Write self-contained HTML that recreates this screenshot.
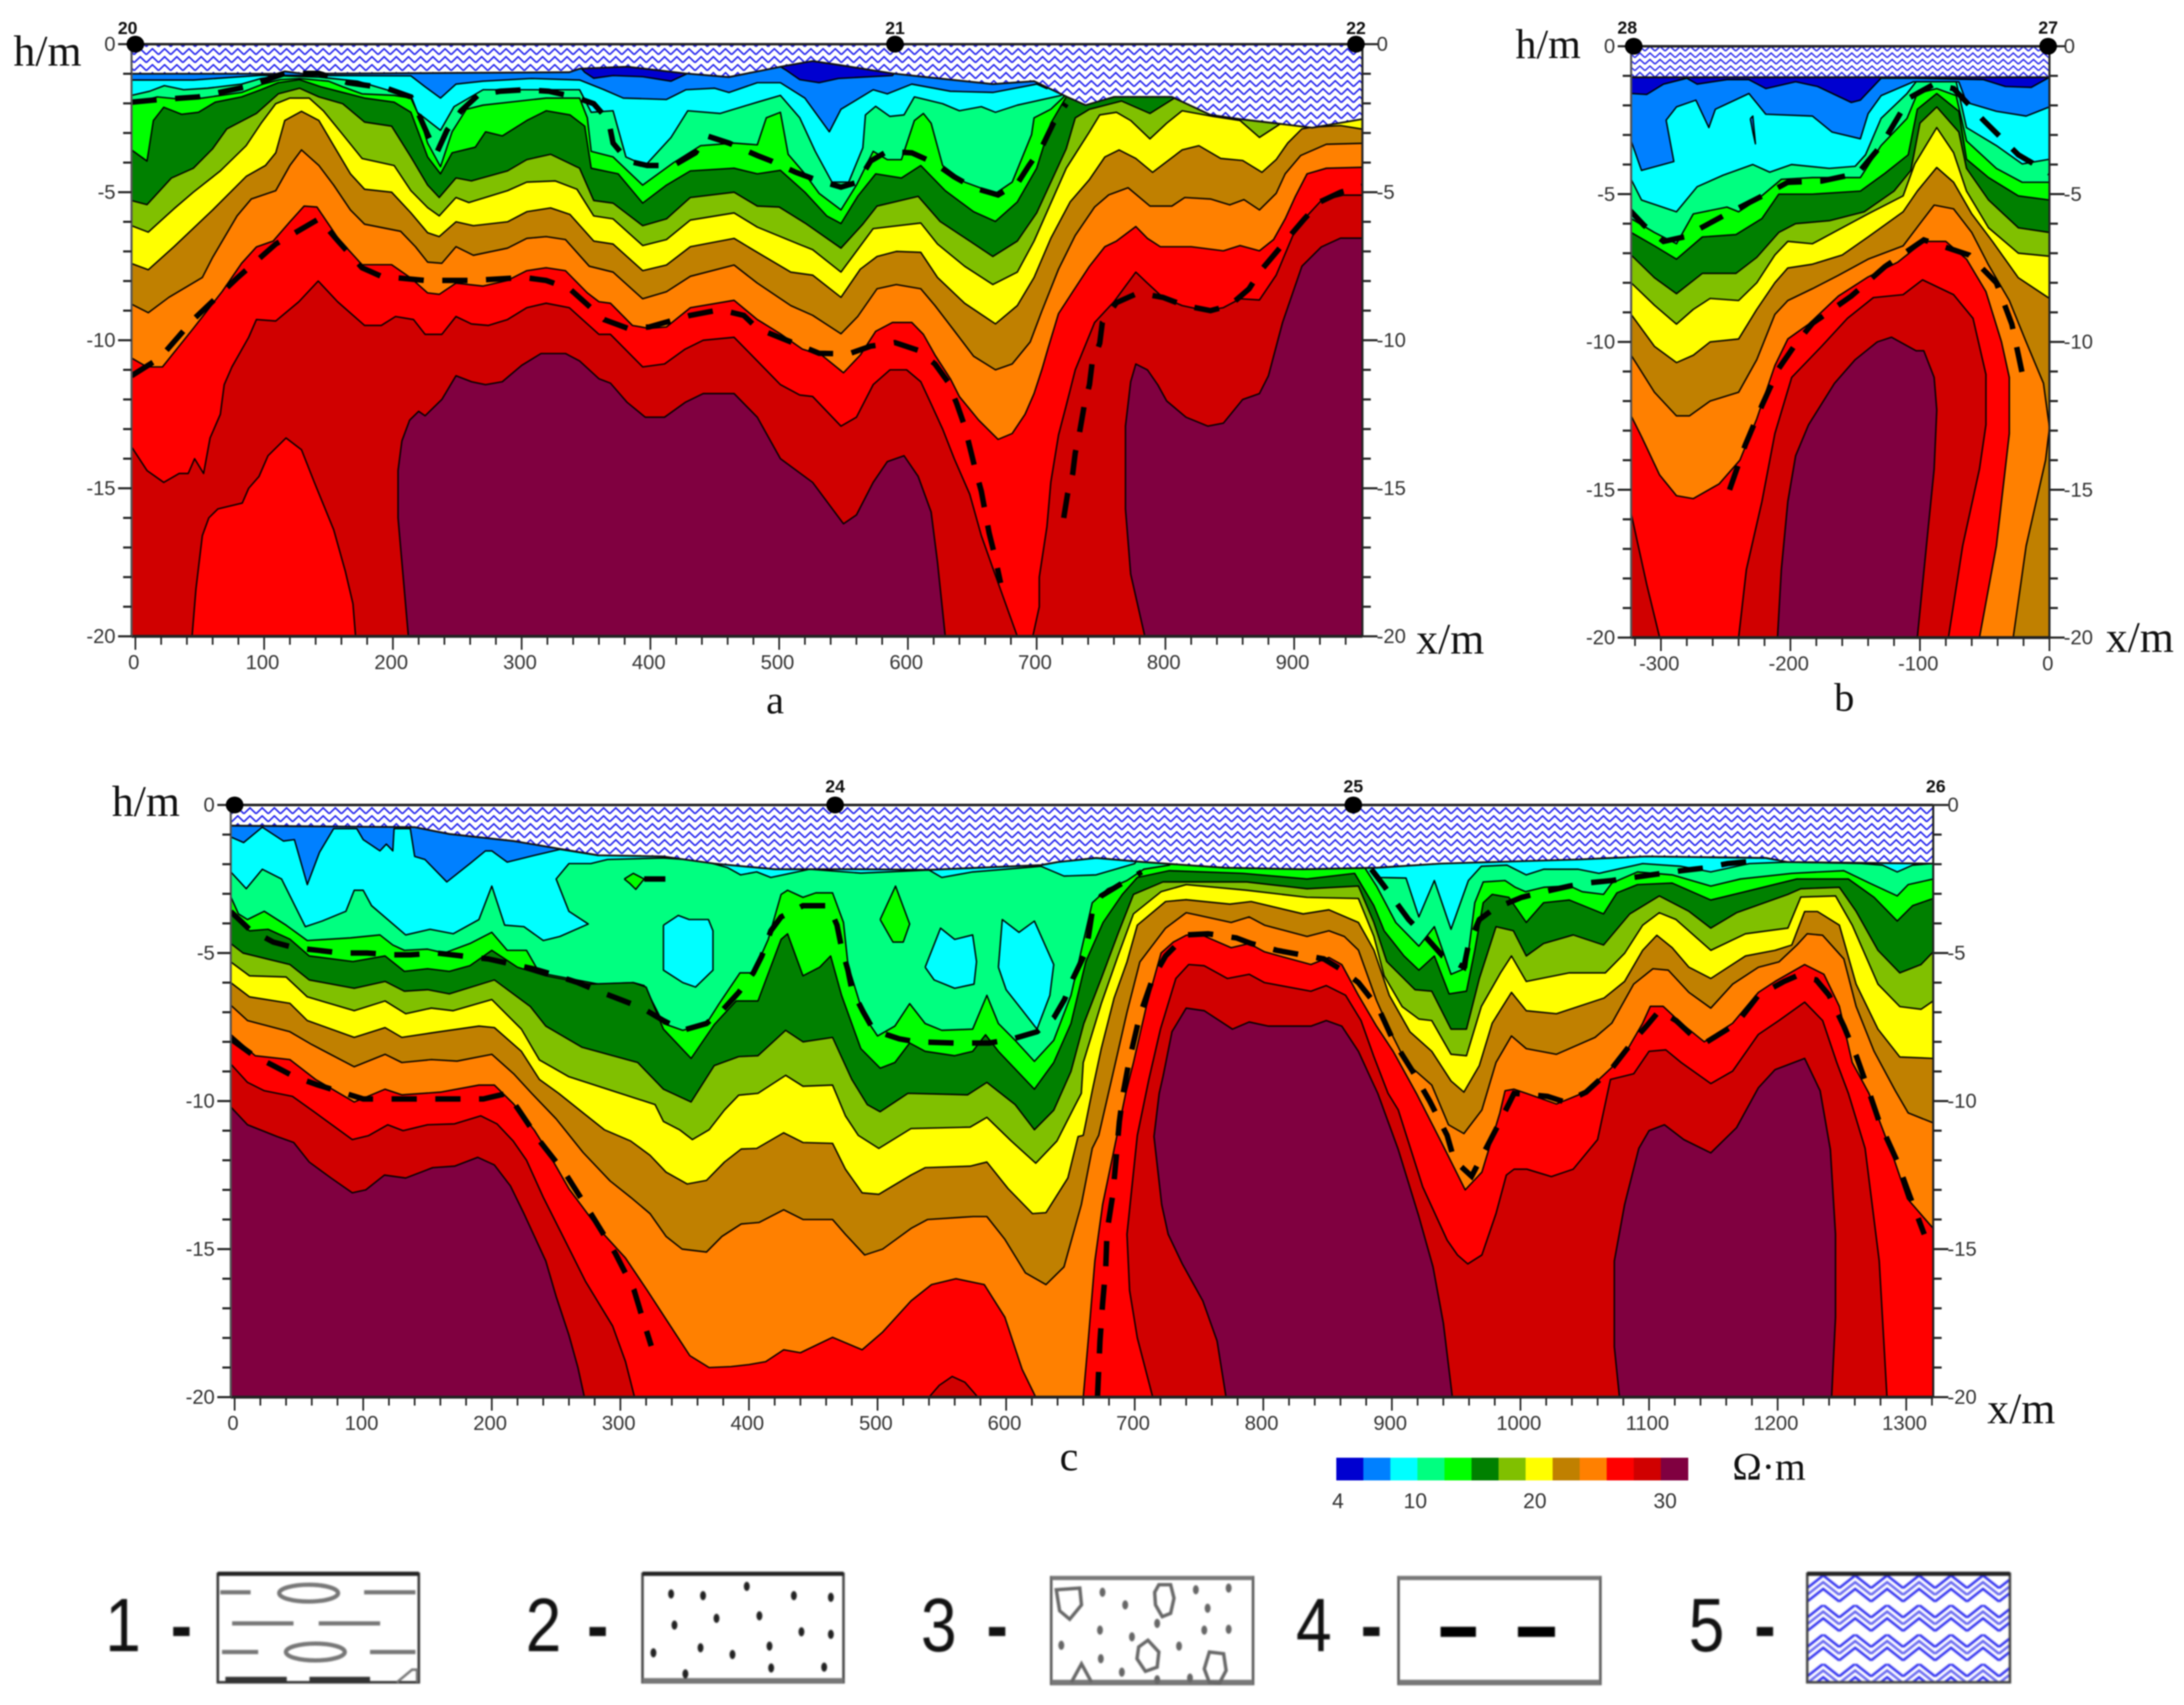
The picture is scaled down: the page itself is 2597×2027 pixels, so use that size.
<!DOCTYPE html>
<html lang="en">
<head>
<meta charset="utf-8">
<title>Resistivity sections a, b, c</title>
<style>
html,body{margin:0;padding:0;background:#fff;}
#chart{display:block;width:2597px;height:2027px;filter:blur(0.8px);}
text{font-family:"Liberation Sans",sans-serif;}
.serif{font-family:"Liberation Serif",serif;fill:#111;}
</style>
</head>
<body>
<svg id="chart" xmlns="http://www.w3.org/2000/svg" width="2597" height="2027" viewBox="0 0 2597 2027">
  <defs>
    <pattern id="hatch-a" patternUnits="userSpaceOnUse" width="14.5" height="19">
      <rect width="14.5" height="19" fill="#ffffff"/>
      <polyline points="0,8 7.25,1 14.5,8" fill="none" stroke="#2222ee" stroke-width="1.9"/>
      <polyline points="0,17.5 7.25,10.5 14.5,17.5" fill="none" stroke="#2222ee" stroke-width="1.9"/>
    </pattern>
    <pattern id="hatch-b" patternUnits="userSpaceOnUse" width="12" height="15.5">
      <rect width="12" height="15.5" fill="#ffffff"/>
      <polyline points="0,6.5 6,1 12,6.5" fill="none" stroke="#2a2aee" stroke-width="1.7"/>
      <polyline points="0,14.2 6,8.7 12,14.2" fill="none" stroke="#2a2aee" stroke-width="1.7"/>
    </pattern>
    <pattern id="hatch-big" patternUnits="userSpaceOnUse" x="2149" y="1873" width="38" height="35">
      <rect width="38" height="35" fill="#ffffff"/>
      <polyline points="0,15 19,0 38,15" fill="none" stroke="#3232f0" stroke-width="3"/>
      <polyline points="0,23 19,8 38,23" fill="none" stroke="#6464f0" stroke-width="3"/>
      <polyline points="0,31 19,16 38,31" fill="none" stroke="#3232f0" stroke-width="3"/>
    </pattern>
  </defs>
  <rect width="2597" height="2027" fill="#ffffff"/>
  <g id="panels"></g>

  <text class="serif" x="16" y="78" font-size="52">h/m</text>
  <text class="serif" x="1684" y="777" font-size="52">x/m</text>
  <text class="serif" x="911" y="848" font-size="48">a</text>
  <text class="serif" x="1802" y="69" font-size="50">h/m</text>
  <text class="serif" x="2504" y="775" font-size="52">x/m</text>
  <text class="serif" x="2181" y="845" font-size="48">b</text>
  <text class="serif" x="133" y="970" font-size="52">h/m</text>
  <text class="serif" x="2363" y="1692" font-size="52">x/m</text>
  <text class="serif" x="1260" y="1748" font-size="50">c</text>

  <g id="colorbar"></g>
  <text class="serif" x="2060" y="1759" font-size="47">Ω·m</text>

  <g fill="none" style="filter:blur(0.8px)">
    <g>
      <text transform="translate(125,1963) scale(.85,1)" font-size="90" fill="#111">1</text>
      <text transform="translate(203,1963) scale(.85,1)" font-size="90" font-weight="bold" fill="#111">-</text>
      <rect x="259" y="1871" width="239" height="129" stroke="#333" stroke-width="3" fill="#fff"/>
      <line x1="259" y1="1871" x2="498" y2="1871" stroke="#222" stroke-width="5"/>
      <g stroke="#777" stroke-width="5">
        <line x1="262" y1="1893" x2="298" y2="1893"/><line x1="433" y1="1893" x2="494" y2="1893"/>
        <line x1="276" y1="1930" x2="349" y2="1930"/><line x1="379" y1="1930" x2="452" y2="1930"/>
        <line x1="264" y1="1964" x2="307" y2="1964"/><line x1="440" y1="1964" x2="494" y2="1964"/>
        <ellipse cx="367" cy="1894" rx="35" ry="10"/><ellipse cx="375" cy="1964" rx="35" ry="10"/>
      </g>
      <g stroke="#333" stroke-width="5">
        <line x1="268" y1="1996" x2="341" y2="1996"/><line x1="368" y1="1996" x2="440" y2="1996"/>
      </g>
      <polyline points="472,2000 490,1985 496,1985 496,2000" stroke="#777" stroke-width="3"/>
    </g>
    <g>
      <text transform="translate(625,1963) scale(.85,1)" font-size="90" fill="#111">2</text>
      <text transform="translate(698,1963) scale(.85,1)" font-size="90" font-weight="bold" fill="#111">-</text>
      <rect x="764" y="1871" width="239" height="129" stroke="#444" stroke-width="3" fill="#fff"/>
      <line x1="764" y1="1871" x2="1003" y2="1871" stroke="#222" stroke-width="5"/>
      <line x1="764" y1="1998" x2="1003" y2="1998" stroke="#777" stroke-width="6"/>
      <g id="legend-sand" fill="#222" stroke="none"></g>
    </g>
    <g>
      <text transform="translate(1095,1963) scale(.85,1)" font-size="90" fill="#111">3</text>
      <text transform="translate(1173,1963) scale(.85,1)" font-size="90" font-weight="bold" fill="#111">-</text>
      <rect x="1250" y="1875" width="240" height="127" stroke="#555" stroke-width="3" fill="#fff"/>
      <line x1="1250" y1="1876" x2="1490" y2="1876" stroke="#777" stroke-width="5"/>
      <line x1="1250" y1="2000" x2="1490" y2="2000" stroke="#777" stroke-width="6"/>
      <g stroke="#666" stroke-width="4">
        <polygon points="1378,1884 1392,1884 1396,1900 1392,1918 1382,1922 1374,1908 1373,1893"/>
        <polygon points="1365,1950 1378,1964 1376,1982 1362,1987 1352,1972 1354,1958"/>
        <polygon points="1438,1964 1455,1966 1458,1986 1450,2001 1438,2000 1432,1984"/>
        <polygon points="1256,1890 1284,1888 1286,1908 1272,1925 1260,1915"/>
        <path d="M1274,2000 L1286,1978 L1298,2000"/>
      </g>
      <g id="legend-gravel" fill="#666" stroke="none"></g>
    </g>
    <g>
      <text transform="translate(1541,1963) scale(.85,1)" font-size="90" fill="#111">4</text>
      <text transform="translate(1618,1963) scale(.85,1)" font-size="90" font-weight="bold" fill="#111">-</text>
      <rect x="1663" y="1875" width="240" height="127" stroke="#555" stroke-width="3" fill="#fff"/>
      <line x1="1663" y1="1876" x2="1903" y2="1876" stroke="#777" stroke-width="5"/>
      <line x1="1663" y1="2000" x2="1903" y2="2000" stroke="#777" stroke-width="6"/>
      <line x1="1713" y1="1940" x2="1755" y2="1940" stroke="#000" stroke-width="12"/>
      <line x1="1805" y1="1940" x2="1849" y2="1940" stroke="#000" stroke-width="12"/>
    </g>
    <g>
      <text transform="translate(2008,1963) scale(.85,1)" font-size="90" fill="#111">5</text>
      <text transform="translate(2086,1963) scale(.85,1)" font-size="90" font-weight="bold" fill="#111">-</text>
      <rect x="2149" y="1871" width="241" height="129" stroke="#444" stroke-width="3" fill="url(#hatch-big)"/>
      <line x1="2149" y1="1871" x2="2390" y2="1871" stroke="#222" stroke-width="5"/>
    </g>
  </g>
</svg>

<script>
/* ---------- colour scale ---------- */
const paletteDarkBlue='#0000d0',paletteBlue='#0080ff',paletteCyan='#00ffff',paletteSpring='#00ff80',paletteGreen='#00ff00',paletteDarkGreen='#008000',paletteOlive='#80c000',paletteYellow='#ffff00',paletteBrown='#c08000',paletteOrange='#ff8000',paletteRed='#ff0000',paletteDarkRed='#d00000',paletteMaroon='#800040';
const colorbarColors=[paletteDarkBlue,paletteBlue,paletteCyan,paletteSpring,paletteGreen,paletteDarkGreen,paletteOlive,paletteYellow,paletteBrown,paletteOrange,paletteRed,paletteDarkRed,paletteMaroon];
const colorbarTickLabels=['4','10','20','30'];
const colorbarTickSteps=[0,2.86,7.28,12.1];

/* ---------- shared ticks ---------- */
const depthTicks=[0,5,10,15,20];

/* ---------- panel a : [x in m, depth in m] ---------- */
const aXTicks=[0,100,200,300,400,500,600,700,800,900];
const aMarkerX=[0,590,948];
const aStationNames=['20','21','22'];
const aStationX=[-6,590,948];
const aSurface=[[-3,1],[110,1],[116,.92],[130,1],[337,.95],[345,.83],[382,.76],[427,.99],[461,1.11],[483,.92],[505,.73],[526,.57],[546,.7],[588,.99],[614,1.11],[666,1.35],[698,1.25],[723,1.77],[738,2.06],[760,1.78],[805,1.78],[835,2.39],[858,2.53],[914,2.82],[953,2.53]];
const aBlue=[[-3,.5],[340,.5],[349,.95],[356,1.15],[371,1.06],[394,1.1],[416,1.25],[431,.95],[445,.7],[495,.6],[505,.87],[516,1.2],[531,1.3],[546,1.16],[588,1.06],[595,.7],[953,.5]];
const aCyan=[[-3,1.21],[45,1.21],[97.5,1.05],[214,1.07],[225,1.44],[237,1.82],[249,1.35],[270,1.25],[307.5,1.16],[345,1.21],[364,1.54],[379,1.82],[412.5,1.87],[427.5,1.54],[450,1.49],[461,1.63],[483,1.3],[501,1.3],[520,1.82],[539,2.96],[548,2.2],[573,1.54],[584,1.68],[603,1.35],[633,1.59],[666,1.63],[700,1.35],[708,1.5],[720,.5],[953,.5]];
const aSpring=[[-3,1.73],[11,1.59],[22.5,1.4],[37.5,1.54],[56,1.49],[82.5,1.35],[97.5,1.16],[112.5,1.07],[142.5,1.11],[172.5,1.25],[195,1.54],[214,1.73],[219,2.3],[237,2.91],[247.5,2.11],[270,1.54],[307.5,1.54],[345,1.54],[354,2.3],[371,2.25],[381,3.81],[396,4.1],[416,3.15],[429,2.25],[454,2.34],[483,1.96],[501,1.73],[516,2.49],[528,3.62],[541,4.66],[554,4.66],[565,3.5],[567,2.39],[575,2.1],[586,2.44],[597,2.39],[605,1.78],[627,2.01],[640,2.25],[657,2.11],[668,2.3],[685,2.06],[719,1.73],[730,.5],[953,.5]];
const aGreen=[[-3,2.01],[17,1.78],[37.5,1.87],[52,1.82],[82.5,1.63],[99,1.35],[112.5,1.2],[127.5,1.16],[150,1.25],[161,1.44],[176,1.68],[201,1.73],[214,1.82],[221,2.49],[227,3.34],[237,4.14],[246,2.96],[257,2.2],[270,2.06],[319,1.82],[345,1.82],[351,2.49],[354,3.62],[371,3.81],[394,4.76],[418,4],[439,3.43],[465,3.34],[483,3.4],[490,2.49],[501,2.3],[507,3.72],[520,4.38],[531,5.04],[548,5.6],[560,4.76],[573,3.62],[584,3.9],[595,3.9],[605,2.58],[612,2.34],[618,2.67],[627,4.1],[644,4.66],[668,5.04],[681,4.66],[696,3.06],[698,2.49],[711,2.2],[721,1.78],[726,.5],[953,.5]];
const aDarkGreen=[[-3,3.57],[9,3.95],[14,2.58],[22,2.13],[36,2.37],[49,2.3],[62,1.96],[82.5,1.78],[97.5,1.54],[111,1.3],[127.5,1.2],[144,1.44],[157.5,1.59],[178,1.82],[201,1.96],[214,2.3],[227,3.81],[237,4.38],[246,3.67],[264,3.48],[272,2.96],[285,3.1],[304,2.58],[319,2.25],[337.5,2.39],[349,2.77],[354,4.19],[375,4.38],[394,5.37],[412.5,4.76],[431,4.28],[465,4.19],[483,4.38],[501,4.26],[520,5],[537,5.8],[548,6.06],[561,5.14],[575,4.38],[595,4.52],[610,4.1],[629,4.95],[651,5.66],[668,5.99],[685,5.33],[700,4.19],[711,2.67],[723,1.78],[730,.5],[953,.5]];
const aOlive=[[-3,5.28],[9,5.42],[28,4.52],[45,4.19],[60,3.53],[71,2.86],[94,2.34],[111,1.68],[127.5,1.49],[142.5,1.78],[161,2.01],[178,2.63],[199,2.77],[214,3.81],[227,4.76],[236,5.18],[249,4.52],[261,4.62],[289,4.28],[304,3.9],[322.5,3.72],[345,4.19],[356,5.28],[371,5.37],[394,6.13],[412.5,5.9],[431,5.18],[465,5],[483,5.47],[500,5.5],[520,6.04],[548,6.89],[565,6.08],[576,5.47],[608,5.14],[625,5.99],[648,6.65],[666,7.17],[685,6.65],[691,6.27],[700,5.7],[708,4.95],[723,3.53],[730,2.49],[741,2.2],[766,1.92],[788,2.34],[807,1.82],[816,2],[820,1],[953,.5]];
const aYellow=[[-3,6.13],[10,6.35],[30,5.56],[45,5],[66,4.28],[86,3.43],[97.5,2.68],[109,2.01],[120,1.82],[135,1.82],[146,2.25],[161,3.05],[176,3.86],[201,4.1],[214,4.95],[227,5.52],[236,5.8],[249,5.18],[259,5.35],[289,4.95],[304,4.66],[326,4.62],[343,4.9],[356,5.8],[371,5.9],[394,6.8],[412.5,6.6],[431,5.94],[465,5.7],[483,6.18],[515,6.75],[526,6.94],[548,7.7],[573,6.23],[610,6.04],[623,6.75],[644,7.5],[666,8.12],[685,7.7],[698,6.65],[723,4.19],[741,2.96],[749,2.39],[762,2.3],[773,2.58],[788,3.2],[801,2.67],[813,2.25],[837,2.44],[858,2.58],[873,3.15],[890,2.67],[895,2.3],[953,2]];
const aBrown=[[-3,7.41],[10,7.62],[30,6.84],[60,5.6],[86,4.47],[101,4.1],[109,3.67],[116,2.58],[129,2.27],[142.5,2.58],[154,3.43],[167,4.38],[178,4.9],[199,5],[214,5.7],[227,6.37],[236,6.5],[249,6],[262.5,6.13],[289,6],[304,5.66],[322.5,5.53],[337.5,5.75],[356,6.65],[371,6.75],[394,7.65],[412.5,7.46],[431,6.84],[465,6.56],[483,7.03],[509,7.7],[526,7.8],[548,8.55],[563,7.6],[576,7.17],[591,7],[610,7.03],[623,7.88],[644,8.75],[668,9.45],[685,8.83],[698,7.88],[711,6.56],[726,5.33],[741,4.57],[753,3.81],[764,3.57],[777,3.86],[790,4.33],[813,3.57],[826,3.43],[843,3.86],[860,3.93],[875,4.33],[886,3.9],[895,3.34],[906,2.86],[914,2.8],[936,2.75],[953,2.87]];
const aOrange=[[-3,8.78],[10,9.07],[26,8.55],[52,7.88],[60,7.2],[79,5.8],[90,5.23],[109,4.95],[120,4.1],[129,3.57],[142.5,4.1],[154,4.76],[167,5.6],[178,6.08],[206,6.32],[217.5,6.84],[227,7.36],[238,7.4],[249,6.84],[262.5,7.13],[289,6.89],[304,6.56],[319,6.5],[334,6.6],[352.5,7.5],[371,7.7],[394,8.6],[412.5,8.36],[431,7.84],[465,7.46],[483,8.07],[509,8.83],[526,9.16],[548,9.78],[561,9.2],[576,8.26],[591,8.12],[610,8.26],[621,8.83],[636,9.68],[651,10.54],[668,11],[681,10.8],[695,10.06],[704,9.02],[717,7.6],[730,6.46],[745,5.5],[756,5.09],[771,4.85],[788,5.47],[805,5.47],[815,5.18],[835,5.23],[850,5.43],[861,5.25],[873,5.6],[886,5.04],[893,4.38],[905,3.76],[925,3.38],[953,3.35]];
const aRed=[[-3,10.6],[9,10.9],[21,10.9],[45,9.6],[67.5,8.35],[82.5,7.4],[94,6.85],[107,6.65],[120,6],[131,5.47],[141,5.5],[157.5,6.56],[176,7.45],[199,7.45],[214,7.9],[227,8.4],[236,8.45],[249,8.07],[270,8.17],[289,7.98],[304,7.65],[319,7.55],[334,7.65],[351,8.4],[360,8.7],[369,8.75],[386,9.5],[399,9.6],[412.5,9.55],[431,8.9],[465,8.65],[483,9.3],[501,9.78],[518,10.3],[533,10.5],[550,11.1],[563,10.5],[575,9.7],[588,9.4],[603,9.4],[612,9.8],[621,10.5],[633,11.3],[640,11.9],[655,12.7],[670,13.35],[681,13.15],[691,12.5],[698,11.8],[704,11],[709,10.25],[717,9.1],[728,8.36],[741,7.5],[753,6.84],[762,6.65],[777,6.16],[786,6.56],[796,6.84],[820,6.84],[845,6.98],[858,6.8],[873,6.98],[884,6.6],[893,5.9],[901,5.14],[910,4.38],[925,4.19],[953,4.16]];
const aDarkRed=[[-3,13.6],[9,14.4],[22,14.8],[34,14.5],[41,14.5],[46,14],[53,14.5],[58,13.3],[66,12.5],[69,11.5],[75,10.9],[88,9.9],[94,9.3],[109,9.35],[127,8.7],[142,8],[157,8.7],[178,9.5],[191,9.5],[202,9.2],[216,9.3],[225,9.8],[238,9.8],[249,9.2],[261,9.45],[274,9.5],[289,9.3],[304,8.9],[319,8.75],[337,8.9],[360,9.8],[369,9.8],[394,10.9],[411,10.8],[427,10.3],[441,10],[465,9.9],[483,10.7],[501,11.5],[516,11.85],[526,11.9],[548,12.9],[560,12.6],[573,11.5],[586,11],[599,11],[610,11.4],[618,12.15],[627,13],[636,14],[648,15.2],[657,16.6],[666,17.7],[680,19.4],[685,20],[697,20],[702,19],[702,18],[708,16.3],[711,14.8],[717,13.2],[723,12.2],[730,11],[745,9.4],[760,8.7],[777,7.7],[786,8.07],[798,8.55],[813,8.83],[831,9],[845,8.9],[858,8.6],[873,8.64],[886,7.8],[899,6.46],[910,5.8],[921,5.28],[938,5.1],[953,5.1]];
const aRedIsland=[[44,20],[47,18.4],[52,16.6],[57,16],[64,15.7],[83,15.5],[88,15],[96,14.6],[103,13.9],[117,13.3],[129,13.7],[139,14.8],[154,16.4],[163,17.8],[169,18.9],[171,20]];
const aMaroonWest=[[212,20],[204,16],[204,14.4],[207,13.4],[213,12.7],[220,12.4],[225,12.55],[238,12],[249,11.2],[261,11.4],[272,11.5],[285,11.4],[300,10.85],[315,10.45],[334,10.45],[345,10.7],[360,11.3],[369,11.45],[382,12.1],[396,12.6],[411,12.6],[427,12.1],[441,11.8],[465,11.8],[483,12.6],[501,14],[526,14.8],[550,16.2],[560,15.9],[573,14.8],[584,14.1],[597,13.9],[608,14.6],[618,15.8],[623,17.5],[629,20]];
const aMaroonEast=[[784,20],[773,17.9],[769,15.7],[769,12.9],[773,11.4],[777,10.8],[786,11],[794,11.5],[801,12.05],[816,12.6],[833,12.9],[845,12.8],[860,12],[873,11.8],[880,11.2],[891,9.4],[906,7.5],[921,6.85],[936,6.55],[953,6.55]];
const aBoundaryUpper=[[-3,1.96],[19,1.87],[49,1.78],[86,1.44],[116,.99],[142.5,.99],[165,1.3],[195,1.49],[214,1.78],[227,3.05],[234,3.67],[242,2.91],[253,2.25],[266,1.73],[283,1.59],[302,1.54],[321,1.59],[341,1.78],[356,2.01],[367.5,2.58],[371,3.34],[382.5,3.95],[397.5,4.1],[418,4.1],[435,3.67],[444,3.1],[461,3.34],[483,3.76],[494,3.95],[513,4.33],[528,4.57],[548,4.83],[561,4.66],[571,3.95],[584,3.62],[603,3.67],[620,4],[636,4.48],[651,4.85],[670,5.09],[685,4.71],[694,4.1],[704,3.48],[713,2.67],[723,2.01]];
const aBoundaryMiddle=[[-3,11.2],[19,10.6],[45,9.3],[79,7.9],[109,6.75],[142.5,5.9],[157.5,6.65],[176,7.55],[191,7.84],[225,7.98],[262.5,7.98],[302,7.88],[319,7.98],[337.5,8.27],[364,9.3],[382.5,9.6],[399,9.55],[431,9.16],[454,8.97],[472.5,9.16],[483,9.6],[531,10.44],[554,10.46],[571,10.2],[590,10.08],[608,10.34],[621,10.8],[631,11.4],[638,12.15],[644,12.9],[648,13.6],[652,14.3],[657,15.1],[660,15.8],[663,16.5],[667,17.2],[672,18.2]];
const aBoundaryEast=[[721,16],[724,15.2],[728,14.5],[730,13.8],[733,13.2],[737,12.2],[741,11.5],[743,10.8],[749,10.1],[751,9.4],[762,8.73],[779,8.4],[798,8.55],[815,8.83],[835,9],[850,8.83],[865,8.26],[874,7.65],[886,7.03],[897,6.46],[908,5.9],[920,5.33],[936,5],[953,4.8]];

/* ---------- panel b ---------- */
const bXTicks=[-300,-200,-100,0];
const bMarkerX=[-321,-1];
const bStationNames=['28','27'];
const bStationX=[-326,-1];
const bSurface=[[-323,1.05],[0,1.05]];
const bBlue=[[-323,1.6],[-311,1.63],[-298,1.28],[-280,1.08],[-272,1.28],[-249,1.13],[-232,1.13],[-219,1.43],[-196,1.2],[-179,1.36],[-153,1.9],[-146,1.82],[-130,1.08],[-105,1.08],[-51,1.13],[-34,1.36],[-14,1.39],[0,1.05]];
const bCyan=[[-323,3.2],[-315,4.2],[-290,3.9],[-296,2.5],[-288,2.05],[-273,1.82],[-263,2.75],[-258,2.13],[-232,1.6],[-219,2.3],[-183,2.36],[-168,2.9],[-146,3.13],[-140,2.28],[-130,1.67],[-105,1.2],[-70,1.2],[-64,1.9],[-41,2.2],[-18,2.36],[0,2.05]];
const bBlueSliver=[[-231,2.45],[-229,2.36],[-227,3.3],[-229,2.9]];
const bSpring=[[-323,4.5],[-315,5.2],[-288,5.6],[-272,4.75],[-252,4.36],[-229,4],[-216,4.26],[-199,4],[-170,4.13],[-150,4.06],[-142,3.67],[-130,2.44],[-110,1.6],[-103,1.2],[-72,1.2],[-64,2.75],[-41,3.36],[-21,3.98],[0,3.82]];
const bGreen=[[-323,5.83],[-305,6.3],[-288,6.68],[-275,5.67],[-249,5.44],[-240,5.6],[-226,5.2],[-207,4.5],[-183,4.44],[-146,4.44],[-130,3.36],[-110,2.44],[-102,1.6],[-87,1.43],[-72,1.67],[-64,3.2],[-41,4.13],[-21,4.6],[0,4.6]];
const bDarkGreen=[[-323,6.3],[-305,6.75],[-288,7.2],[-268,6.45],[-242,6.37],[-222,5.83],[-209,5],[-183,5],[-146,4.9],[-127,4.3],[-109,3.67],[-102,2.13],[-87,1.6],[-70,2.2],[-64,3.82],[-47,4.44],[-24,5.06],[0,5.2]];
const bOlive=[[-323,7.06],[-305,7.83],[-288,8.37],[-268,7.68],[-242,7.68],[-226,7.14],[-209,6.3],[-196,6],[-170,5.9],[-143,5.6],[-120,4.9],[-107,4.2],[-100,2.6],[-87,2.05],[-70,2.9],[-64,4.13],[-47,5.2],[-24,6.14],[0,6.3]];
const bYellow=[[-323,8],[-305,8.76],[-288,9.4],[-275,8.9],[-262,8.53],[-240,8.6],[-226,8],[-212,7.06],[-202,6.6],[-183,6.68],[-160,6.14],[-140,5.67],[-113,5.06],[-104,3.98],[-87,2.75],[-74,3.6],[-64,4.9],[-47,6.14],[-24,7],[0,7.1]];
const bBrown=[[-323,9.07],[-305,10.15],[-288,10.7],[-275,10.45],[-262,10],[-240,9.9],[-226,8.9],[-212,8],[-202,7.5],[-183,7.37],[-160,7.06],[-140,6.45],[-113,5.6],[-102,4.9],[-87,4.1],[-74,4.6],[-60,5.67],[-44,6.6],[-24,7.83],[0,8.53]];
const bOrange=[[-323,10.45],[-305,11.7],[-288,12.5],[-278,12.5],[-262,12],[-240,11.7],[-226,10.6],[-212,9.07],[-202,8.6],[-183,8.2],[-163,7.75],[-140,7.2],[-113,6.75],[-100,6],[-89,5.37],[-74,5.5],[-60,6.3],[-47,7.4],[-31,8.6],[-18,10],[-4.6,11.4],[0,12.9],[-3,14],[-18,16.9],[-28,20]];
const bRed=[[-323,12.5],[-315,13.2],[-301,14.5],[-288,15.2],[-275,15.3],[-255,14.8],[-239,14],[-226,12.6],[-212,10.8],[-202,9.9],[-186,9.4],[-163,8.45],[-140,7.8],[-117,7.3],[-97,6.6],[-80,6.6],[-64,7.2],[-49,8.3],[-37,10],[-31,11.2],[-31,13.1],[-41,16.9],[-54,20]];
const bDarkRed=[[-240,20],[-234,17.7],[-222,15.4],[-212,13.1],[-199,11.2],[-176,10.15],[-156,9.2],[-136,8.5],[-113,8.4],[-98,7.9],[-74,8.4],[-59,9.2],[-49,11.1],[-49,12.8],[-54,14.3],[-67,16.9],[-78,20]];
const bDarkRedCorner=[[-323,15.8],[-311,18.2],[-301,20],[-323,20]];
const bMaroon=[[-210,20],[-207,17.7],[-202,15.4],[-196,13.85],[-186,12.8],[-166,11.4],[-150,10.6],[-133,10],[-122,9.84],[-103,10.3],[-97,10.3],[-89,11.2],[-87,12.3],[-89,14.3],[-95,16.9],[-102,20]];
const bBoundaryUpper=[[-325,5.5],[-313,6.06],[-298,6.6],[-282,6.45],[-249,5.67],[-219,5],[-202,4.6],[-176,4.56],[-148,4.3],[-130,3.36],[-108,1.74],[-89,1.28],[-74,1.43],[-51,2.5],[-24,3.67],[0,4.29]];
const bBoundaryLower=[[-247,15],[-235,13.5],[-222,12.15],[-209,10.9],[-196,10.07],[-183,9.37],[-153,8.45],[-127,7.45],[-97,6.55],[-62,7.06],[-41,8],[-29,9.4],[-21,11.07]];

/* ---------- panel c ---------- */
const cXTicks=[0,100,200,300,400,500,600,700,800,900,1000,1100,1200,1300];
const cMarkerX=[0,467,870];
const cStationNames=['24','25','26'];
const cStationX=[467,870,1323];
const cSurface=[[-3,.7],[140,.75],[167,.98],[217,1.22],[250,1.46],[283,1.7],[333,1.74],[373,1.98],[420,2.17],[484,2.17],[540,2.19],[627,2.03],[640,1.93],[670,1.79],[707,1.93],[770,2.12],[831,2.17],[888,2.12],[938,1.98],[1045,1.84],[1098,1.74],[1191,1.79],[1208,1.93],[1321,1.98]];
const cCyan=[[-3,1.08],[7,1.27],[21.5,.75],[38,1.22],[46.5,1.17],[56.5,2.69],[66,1.6],[77,.8],[95,.8],[100,1.17],[113,1.55],[118,1.32],[123,1.55],[124,.8],[136.6,.8],[140,1.74],[148,1.84],[165,2.6],[183,1.98],[195,1.55],[200,1.55],[212,1.93],[233.4,1.7],[253,1.5],[283,1.71],[300,1.5],[1321,1.5]];
const cSpring=[[-3,2.26],[9,2.83],[21.5,2.17],[36.5,2.5],[55,4.11],[68,3.92],[86.5,3.59],[93,2.88],[100,2.88],[106.5,3.4],[133,4.39],[152,4.2],[170,4.35],[190,3.87],[200,2.74],[210,4.06],[225,4.11],[240,4.58],[253,4.44],[275,4.02],[260,3.59],[250,2.5],[260,1.98],[277,1.98],[290,1.84],[333,1.79],[363.5,1.88],[383.5,2.12],[393.5,2.36],[406,2.26],[417,2.45],[447,2.17],[487,2.3],[540,2.2],[550,2.45],[574,2.26],[627,2.07],[645,2.4],[670,2.36],[700,1.98],[707,1.5],[870,1.5],[881,1.9],[891,2.45],[911,2.47],[921,3.78],[933,2.55],[946,4.2],[959.5,2.55],[969.5,2.07],[989.5,2.03],[1004.5,2.36],[1018,2.17],[1045,2.17],[1061,2.31],[1095,1.98],[1125,2.07],[1148,2.26],[1178,1.98],[1208,1.93],[1265,1.98],[1281.5,2.03],[1293,2.26],[1305,2.03],[1321,1.98]];
const cCyanLensA=[[333.5,4.06],[345,3.73],[353.5,3.87],[368.5,3.87],[372,4.25],[372,5.58],[358.5,6.15],[348.5,6],[333.5,5.58]];
const cCyanLensB=[[537,5.48],[549,4.16],[560,4.54],[574,4.39],[577,5.29],[575,6.05],[560,6.19],[544,5.91]];
const cCyanLensC=[[594,5.48],[597,3.87],[610,4.3],[622,3.92],[637,5.39],[634,6.43],[624,7.57],[612,6.9],[600,6.24]];
const cGreenIslandA=[[303,2.5],[310,2.31],[318.5,2.5],[312,2.85],[307,2.64]];
const cGreenIslandB=[[502,3.87],[514,2.74],[525,4.02],[520,4.63],[512,4.63]];
const cGreen=[[-3,3.1],[3,3.68],[10,3.87],[23,3.59],[40,4.06],[56.5,4.58],[90,4.49],[113,4.39],[123,4.73],[132,4.91],[150,4.87],[163,5],[183,4.68],[200,4.3],[212,4.91],[227,4.91],[237,5.67],[283,6.05],[310,6],[318.5,6.1],[333.5,7.38],[348.5,7.61],[367,7.38],[377,6.7],[393,5.67],[403.4,5.67],[415,4.54],[425,3.02],[430,2.88],[442,3.12],[452,2.97],[465,2.97],[473.5,3.97],[477,5.39],[489,7.09],[500,7.8],[513.5,7.47],[525,6.71],[537,7.38],[550,7.61],[574,7.57],[585,6.43],[594,7.38],[607,7.95],[622,8.66],[637,7.95],[650.4,6.43],[660.4,4.54],[667,3.3],[679,2.83],[694,2.55],[707,2.17],[727,2.03],[740,1.5],[870,1.5],[881,2.26],[888,2.74],[903,3.97],[921,4.77],[933,4.11],[946,5.72],[958,5.5],[964.5,3.3],[971,2.6],[988,2.55],[996,2.78],[1004,2.93],[1018,2.78],[1038,2.73],[1048,2.93],[1064.6,3.02],[1071,2.64],[1091,2.26],[1118,2.36],[1148,2.74],[1171,2.5],[1211,2.31],[1251.5,2.22],[1271.5,2.64],[1293,3.07],[1301.5,2.69],[1321,2.5]];
const cDarkGreen=[[-3,3.68],[11.5,4.25],[26,4.2],[43,4.53],[58,5.1],[92,5.29],[117,5.1],[132,5.62],[150,5.53],[167,5.62],[183,5.43],[200,4.91],[220,5.48],[242,5.77],[276,6.05],[310,6],[320,6.15],[333.5,7.57],[355,8.56],[373,7.42],[390,6.62],[407,6.62],[425,4.54],[430,4.35],[442,5.77],[455,5.48],[463.5,5.1],[472,6.43],[487,8.23],[502,8.89],[513.5,8.7],[525,8.04],[537,8.32],[560,8.47],[574,8.32],[584,7.76],[594,8.32],[622,9.6],[637,8.7],[650.4,7.38],[662,5.29],[675.4,3.97],[690.4,3.02],[702,2.45],[727,2.22],[784,2.31],[834,2.5],[871,2.31],[886,3.4],[894,4.25],[909.4,5.1],[921,5.58],[933,5.1],[944.5,6.38],[958,6.29],[964.5,4.91],[971,3.3],[978,3.02],[991,3.12],[1004.5,3.97],[1018,3.3],[1038,3.21],[1064.6,3.68],[1075,2.97],[1091,2.69],[1118,2.64],[1148,3.21],[1171,2.97],[1215,2.5],[1255,2.5],[1275,3.12],[1293,3.92],[1305,3.4],[1321,3.16]];
const cOlive=[[-3,4.68],[6.5,5],[43,5.39],[58,5.91],[93,6.19],[117,5.96],[132,6.29],[150,6.24],[167,6.38],[202,5.91],[230,6.81],[242,7.47],[270,8.18],[313.5,8.7],[333.5,9.6],[355,10.03],[373,8.8],[392,8.5],[407,8.47],[428.5,7.61],[442,8],[465,7.85],[480,9.27],[492,10.12],[502,10.36],[517,9.93],[523.6,9.74],[570,9.79],[585,9.37],[607,10.12],[622,10.97],[637,10.31],[650.4,9],[660.4,7.38],[674,5.86],[687,4.35],[699,3.02],[722,2.6],[787,2.6],[834,2.83],[874,2.74],[886,3.97],[896,5.29],[918,6.24],[931,6.29],[946,7.57],[958,7.57],[968,5.86],[981,4.11],[994.5,4.25],[1004.5,5.1],[1018,4.68],[1041,4.39],[1064.6,4.73],[1085,3.68],[1108,3.07],[1131,3.59],[1148,4.16],[1168,3.64],[1208,3.02],[1218,2.83],[1248,2.78],[1261,3.59],[1278,4.91],[1295,5.67],[1311.5,5.39],[1321,4.96]];
const cYellow=[[-3,5.3],[11.5,5.77],[40,5.81],[56.5,6.48],[93,6.95],[117,6.62],[133,7.05],[153,6.86],[170,6.95],[200,6.57],[223,7.57],[237,8.61],[260,9.18],[293.5,9.65],[327,10.12],[333.5,10.69],[346,10.97],[356,11.3],[369,10.97],[381,10.3],[392,9.8],[407,9.74],[428.5,9.13],[442,9.5],[465,9.46],[475,10.5],[485,11.16],[501,11.6],[526,10.93],[572,10.88],[585,10.55],[604,11.35],[623,12.1],[639.5,11.35],[653,10.2],[658.5,9.74],[660,8.7],[674,6.71],[687,5.1],[699,3.68],[720.5,2.93],[740,2.69],[787,2.88],[834,3.12],[874,3.16],[886,4.44],[894,5.77],[908,6.81],[921,7.23],[931,7.28],[946,8.42],[958,8.47],[969.5,6.81],[984.5,5.67],[993,5.1],[1004.5,5.96],[1038,5.67],[1066,5.67],[1081,5.01],[1095,4.06],[1108,3.64],[1121,3.87],[1148,4.91],[1175,4.35],[1208,4.16],[1218,3.11],[1245,3.07],[1258,4.06],[1278,6.05],[1295,6.81],[1311.5,6.9],[1321,6.62]];
const cBrown=[[-3,6],[11.5,6.48],[43,6.7],[56.5,7.28],[93,7.85],[117,7.52],[130,7.85],[153,7.7],[190,7.47],[202,7.52],[223,8.32],[237,9.27],[252,9.74],[271,10.4],[287.5,10.97],[308,11.35],[323,11.83],[335.5,12.4],[352,12.8],[367,12.68],[381,12.06],[394,11.62],[406,11.6],[427,11.07],[442,11.4],[465,11.43],[475,12.3],[488,13.1],[501,13.15],[526,12.5],[537,12.25],[572,12.2],[585,12.06],[601.6,12.96],[620.5,13.8],[631,13.77],[648,12.6],[656,11.2],[660,11.16],[667,9.65],[674,8.23],[684,6.52],[694,5.3],[702,4.06],[724,3.26],[740,3.2],[774,3.35],[790.5,3.26],[831,3.68],[851,3.54],[874,3.97],[886,4.9],[898,6.43],[914,7.66],[931,8.32],[946,9.32],[956,9.7],[968,8.8],[978,7.37],[993,6.33],[1004.5,6.95],[1028,7.05],[1065,6.52],[1081,5.96],[1095,4.91],[1106,4.4],[1118,4.82],[1131,5.48],[1148,5.86],[1175,5.1],[1198,4.91],[1211,4.73],[1221,3.6],[1231,3.6],[1248,4.06],[1261,6.05],[1278,7.57],[1295,8.51],[1321,8.56]];
const cOrange=[[-3,6.76],[10,7.28],[43,7.66],[60,8.09],[93,8.84],[117,8.42],[130,8.7],[153,8.6],[173,8.65],[200,8.42],[217,9.08],[231,9.74],[250,10.6],[271,11.74],[292,12.7],[308,13.25],[323,13.8],[335.5,14.57],[348,15],[367,15.1],[379,14.57],[394,14.15],[408,14.1],[427,13.67],[442,14],[465,14],[475,14.5],[490,15.2],[504,15],[526,14.3],[539,14],[574.5,13.9],[585,13.9],[599,14.67],[615,15.8],[631,16.2],[645,15.6],[658.5,13.5],[667,11.6],[672,11.16],[684,8.9],[694,7],[704,5.3],[714,4.73],[724,4.16],[740,3.64],[750,3.73],[775,3.97],[789,3.78],[801,4.06],[834,4.44],[851,4.25],[863,4.44],[874,4.9],[888,6.6],[898,7.57],[911,8.7],[931,9.46],[944,10.8],[956,11.1],[970,10.3],[981,8.7],[993,7.8],[1004.5,8.23],[1028,8.42],[1058,7.85],[1071,7.37],[1088,6.05],[1103,5.53],[1115,5.58],[1131,6.33],[1148,6.86],[1165,6.05],[1185,5.48],[1201,5.3],[1215,4.73],[1223,4.35],[1235,4.4],[1251.5,5.2],[1261,6.8],[1275,8.32],[1291.5,9.65],[1301.5,10.4],[1321,10.74]];
const cRed=[[-3,7.75],[16,8.47],[43,8.6],[63,9.27],[93,10.03],[117,9.6],[130,9.79],[160,9.7],[190,9.46],[202,9.46],[217,10.1],[233,10.98],[242,11.6],[260,12.96],[283,14.3],[304,15.3],[321,16.4],[337.5,17.5],[354,18.6],[369,19],[386,18.97],[400,18.9],[413,18.8],[427,18.4],[440,18.5],[465,17.98],[488,18.4],[504,17.8],[526,16.75],[542,16.2],[561,16],[583,16.2],[599,17.3],[612.4,19.06],[623,20],[660,20],[664,18],[669,15.4],[675,13.5],[693,9.74],[699,8.7],[709,6.8],[720.5,5],[730,4.63],[740,4.4],[750,4.35],[775,4.82],[789,4.68],[801,4.96],[837,5.39],[851,5.15],[861,5.39],[874,6.43],[888,7.47],[901,8.32],[919,9.74],[938,11.35],[957,13],[970,12.4],[984,10.4],[988,9.65],[995,9.6],[1004.5,9.74],[1028,10.1],[1048,9.74],[1061,9.27],[1080,8.5],[1095,7.37],[1101,6.8],[1111,6.8],[1125,7.37],[1143,8],[1165,7.37],[1185,6.33],[1198,5.96],[1221,5.39],[1236,5.72],[1248,6.8],[1258,8.7],[1271,9.74],[1290,11.9],[1301,13.3],[1321,14.3]];
const cDarkRed=[[-3,8.75],[10,9.37],[23,9.65],[45,9.84],[63,10.4],[91.5,11.3],[104,11.17],[119,10.8],[131,11],[150,10.8],[171,10.77],[191.5,10.5],[204,10.77],[216.6,11.35],[227,12],[240,13.25],[258,14.8],[273,16.1],[294,17.6],[304,18.8],[311,20],[714,20],[702,18],[696,16.4],[694,14.5],[702,11.16],[711,9.27],[720,7.57],[732,5.86],[742,5.39],[754,5.43],[772,5.86],[789,5.72],[801,6],[837,6.29],[849,6.1],[864,6.43],[876,7.28],[886,8.5],[897,9.74],[905,10.3],[924,12.9],[943,14.7],[951,15.2],[959,15.5],[970,15.2],[981,13.8],[989,12.5],[995,12.3],[1005,12.3],[1024,12.55],[1041,12.3],[1060,11.3],[1070,9.27],[1088,9.08],[1100,8.32],[1113,8.27],[1125,8.7],[1148,9.41],[1165,8.99],[1185,7.75],[1201,7.28],[1221,6.66],[1235,7.28],[1246,8.7],[1255,9.74],[1268,11.6],[1279,15.4],[1285,20]];
const cDarkRedIsland=[[540,20],[548,19.6],[558,19.3],[568,19.5],[578,20]];
const cMaroonWest=[[-3,10.2],[10,10.8],[33,11.2],[46,11.4],[58,12.06],[75,12.6],[91.5,13.1],[102,13],[116.5,12.5],[133,12.6],[154,12.25],[171,12.2],[189,11.9],[202,12.16],[214.5,12.87],[225,13.8],[242,15.4],[250,16.6],[260,17.9],[267,19],[272,20]];
const cMaroonMiddle=[[771,20],[764,18.1],[753,16.75],[737,15.5],[726,14.5],[721,13.5],[715,11.2],[719,9.74],[722,9.18],[729,7.66],[740,6.86],[754,6.95],[776,7.57],[789,7.33],[804,7.47],[837,7.47],[849,7.28],[861,7.47],[874,8.32],[884,9.27],[889,9.74],[905,11.64],[921,13.9],[932,15.6],[940,17.5],[947,20]];
const cMaroonEast=[[1077,20],[1073,18.3],[1073,15.4],[1081,13.5],[1092,11.6],[1100,11],[1112,10.8],[1127,11.3],[1148,11.75],[1168,10.9],[1185,9.55],[1198,8.94],[1221,8.56],[1233,9.65],[1241,11.64],[1245,14.5],[1245,17.3],[1242,20]];
const cBoundaryUpper=[[-3,3.6],[11.5,4.2],[30,4.63],[46.5,4.82],[65,4.91],[83,5],[103,5],[123,5.06],[136.6,5.06],[157,5],[177,5.1],[197,5.2],[212,5.34],[232,5.53],[247,5.72],[267,6],[283,6.29],[300,6.57],[317,6.86],[333.5,7.28],[348.5,7.61],[367,7.38],[380,6.9],[392,6.33],[403.4,5.67],[410,5.1],[417,4.25],[425,3.78],[442,3.4],[462,3.4],[468.5,4.06],[472,4.82],[477,5.58],[480,6.24],[489,7],[497,7.61],[517,7.9],[530,8],[560,8.04],[587,8.04],[605,7.9],[624,7.66],[637,7.19],[645.4,6.57],[652,5.86],[660.4,5.1],[664,4.44],[667,3.59],[674,3.07],[690.4,2.64],[705.4,2.26]];
const cBoundaryMiddle=[[-3,7.9],[15,8.47],[30,8.8],[46.5,9.18],[65,9.46],[83,9.7],[100,9.93],[193.4,9.93],[212,9.74],[221,10.3],[237.5,11.36],[258,12.5],[277,13.8],[296,15.14],[310.5,16.37],[317,17.3],[324,18.27]];
const cBoundaryDeep=[[671,20],[673,18.1],[675,16.85],[677.5,15.6],[678.5,14.4],[683,13.15],[685.6,11.9],[688,10.7],[691,9.74],[695.4,8.7],[704,7.1],[714,5.86],[724,5.1],[740,4.39],[757,4.35],[779,4.49],[790.5,4.68],[810.5,4.91],[847,5.2],[863,5.62],[874,6],[884.4,6.57],[891,7],[901,7.95],[916,8.99],[929.4,10],[943,11.16],[948.5,12],[962,12.54],[984,10.7],[995,9.74],[1021,9.84],[1034.5,10.03],[1051,9.7],[1071,8.9],[1088,7.95],[1098,7.47],[1108,6.95],[1121,7.28],[1135,7.85],[1145,8],[1168,7.38],[1185,6.43],[1205,5.96],[1215,5.77],[1230,5.91],[1240,6.43],[1251.5,7.47],[1261.5,8.51],[1271.5,9.74],[1279,10.7],[1292.6,12],[1301,13],[1314,14.5]];
const cBoundaryEast=[[884,2.17],[894,2.74],[913,3.87],[928,4.54],[939.5,5.1],[956,5.48],[959.5,4.73],[968,3.87],[979.5,3.5],[1001,3.12],[1014.5,2.97],[1038,2.74],[1051,2.64],[1071,2.55],[1125,2.22],[1145,2.12],[1161,1.98],[1185,1.88]];
const cBoundaryShort=[[318.5,2.5],[335,2.5]];

/* ---------- legend decoration samples ---------- */
const sandGrains=[[798,1895],[836,1897],[888,1886],[944,1897],[988,1899],[852,1924],[903,1921],[802,1932],[953,1940],[988,1943],[915,1957],[833,1959],[777,1965],[871,1967],[917,1983],[980,1982],[815,1990]];
const gravelGrains=[[1311,1893],[1338,1908],[1422,1890],[1461,1888],[1436,1912],[1376,1930],[1308,1938],[1432,1938],[1461,1937],[1346,1946],[1402,1957],[1309,1972],[1334,1988],[1376,1997],[1415,1995],[1262,1956]];

/* ---------- drawing ---------- */
const SVGNS='http://www.w3.org/2000/svg';
function make(tag,attrs,name,parent){
  const el=document.createElementNS(SVGNS,tag);
  for(const k in attrs){el.setAttribute(k,attrs[k]);}
  
  
  parent.appendChild(el);
  return el;
}
function drawPanel(p){
  const sx=function(m){return p.x0+p.kx*m;};
  const sy=function(d){return p.y0+p.ky*d;};
  const left=sx(p.xMin),right=sx(p.xMax),top=sy(0),bottom=sy(20);
  const g=make('g',{},'panel-'+p.id,document.getElementById('panels'));
  const clip=make('clipPath',{id:'clip-'+p.id},'panel-'+p.id+'-clip',g);
  make('rect',{x:left,y:top,width:right-left,height:bottom-top},'panel-'+p.id+'-clip-rect',clip);
  const body=make('g',{'clip-path':'url(#clip-'+p.id+')'},'panel-'+p.id+'-contours',g);
  make('rect',{x:left,y:top,width:right-left,height:bottom-top,fill:p.base},'panel-'+p.id+'-base-layer',body);
  p.layers.forEach(function(layer){
    const pts=layer.pts.map(function(q){return sx(q[0]).toFixed(1)+','+sy(q[1]).toFixed(1);}).join(' ');
    const first=layer.pts[0],last=layer.pts[layer.pts.length-1];
    const closing=layer.closed?'':' '+sx(last[0]).toFixed(1)+','+sy(20).toFixed(1)+' '+sx(first[0]).toFixed(1)+','+sy(20).toFixed(1);
    make('polygon',{points:pts+closing,fill:layer.color},'panel-'+p.id+'-'+layer.name+'-region',body);
    make('polyline',{points:pts+(layer.closed?' '+sx(first[0]).toFixed(1)+','+sy(first[1]).toFixed(1):''),fill:'none',stroke:'#000','stroke-width':1.7,'stroke-linejoin':'round'},'panel-'+p.id+'-'+layer.name+'-contour',body);
  });
  const surf=p.surface.map(function(q){return sx(q[0]).toFixed(1)+','+sy(q[1]).toFixed(1);}).join(' ');
  make('polygon',{points:sx(p.xMin)+','+top+' '+sx(p.xMax)+','+top+' '+sx(p.xMax)+','+sy(p.surface[p.surface.length-1][1]).toFixed(1)+' '+surf.split(' ').reverse().join(' ')+' '+sx(p.xMin)+','+sy(p.surface[0][1]).toFixed(1),fill:'url(#'+p.hatch+')'},'panel-'+p.id+'-water-layer',body);
  make('polyline',{points:surf,fill:'none',stroke:'#111','stroke-width':2.2},'panel-'+p.id+'-surface-line',body);
  p.boundaries.forEach(function(b,i){
    make('polyline',{points:b.map(function(q){return sx(q[0]).toFixed(1)+','+sy(q[1]).toFixed(1);}).join(' '),fill:'none',stroke:'#000','stroke-width':6.5,'stroke-dasharray':'30 22'},'panel-'+p.id+'-dashed-boundary-'+(i+1),body);
  });
  const axes=make('g',{},'panel-'+p.id+'-axes',g);
  make('line',{x1:left,y1:top,x2:right,y2:top,stroke:'#222','stroke-width':3},'panel-'+p.id+'-top-axis',axes);
  make('line',{x1:left,y1:bottom,x2:right,y2:bottom,stroke:'#222','stroke-width':3.5},'panel-'+p.id+'-x-axis',axes);
  make('line',{x1:left,y1:top,x2:left,y2:bottom,stroke:'#555','stroke-width':2.5},'panel-'+p.id+'-left-axis',axes);
  make('line',{x1:right,y1:top,x2:right,y2:bottom,stroke:'#222','stroke-width':2.5},'panel-'+p.id+'-right-axis',axes);
  for(let d=0;d<=20;d++){
    const major=d%5===0;
    make('line',{x1:left-(major?16:10),y1:sy(d),x2:left,y2:sy(d),stroke:'#222','stroke-width':2.5},'y-tick-left',axes);
    make('line',{x1:right,y1:sy(d),x2:right+(major?18:10),y2:sy(d),stroke:'#222','stroke-width':2.5},'y-tick-right',axes);
  }
  depthTicks.forEach(function(d){
    const lab=d===0?'0':'-'+d;
    const l=make('text',{x:left-19,y:sy(d)+8,'text-anchor':'end','font-size':24,fill:'#333'},'y-tick-label-left',axes);
    l.textContent=lab;
    const r=make('text',{x:right+17,y:sy(d)+8,'font-size':24,fill:'#333'},'y-tick-label-right',axes);
    r.textContent=lab;
  });
  const start=Math.ceil(p.xMin/20)*20;
  for(let m=start;m<=p.xMax;m+=20){
    const major=m%100===0;
    make('line',{x1:sx(m),y1:bottom,x2:sx(m),y2:bottom+(major?16:10),stroke:'#222','stroke-width':2},'x-tick',axes);
  }
  p.xTicks.forEach(function(m){
    const t=make('text',{x:sx(m)-2,y:bottom+39,'text-anchor':'middle','font-size':24,fill:'#333'},'x-tick-label',axes);
    t.textContent=String(m);
  });
  p.markers.forEach(function(m){
    make('ellipse',{cx:sx(m),cy:top,rx:10.5,ry:10},'station-marker',axes);
  });
  p.stationX.forEach(function(m,i){
    const t=make('text',{x:sx(m),y:top+p.labelDy,'text-anchor':'middle','font-size':21,'font-weight':'bold',fill:'#111'},'station-label',axes);
    t.textContent=p.stationNames[i];
  });
}
drawPanel({id:'a',hatch:'hatch-a',x0:161,kx:1.531,y0:52.5,ky:35.2,xMin:-3,xMax:953,base:paletteDarkBlue,surface:aSurface,xTicks:aXTicks,markers:aMarkerX,stationX:aStationX,stationNames:aStationNames,labelDy:-12,
  layers:[{name:'blue',color:paletteBlue,pts:aBlue},{name:'cyan',color:paletteCyan,pts:aCyan},{name:'spring',color:paletteSpring,pts:aSpring},{name:'green',color:paletteGreen,pts:aGreen},{name:'dark-green',color:paletteDarkGreen,pts:aDarkGreen},{name:'olive',color:paletteOlive,pts:aOlive},{name:'yellow',color:paletteYellow,pts:aYellow},{name:'brown',color:paletteBrown,pts:aBrown},{name:'orange',color:paletteOrange,pts:aOrange},{name:'red',color:paletteRed,pts:aRed},{name:'dark-red',color:paletteDarkRed,pts:aDarkRed},{name:'red-island',color:paletteRed,pts:aRedIsland},{name:'maroon-west',color:paletteMaroon,pts:aMaroonWest},{name:'maroon-east',color:paletteMaroon,pts:aMaroonEast}],
  boundaries:[aBoundaryUpper,aBoundaryMiddle,aBoundaryEast]});
drawPanel({id:'b',hatch:'hatch-b',x0:2437,kx:1.54,y0:55,ky:35.15,xMin:-323,xMax:0,base:paletteDarkBlue,surface:bSurface,xTicks:bXTicks,markers:bMarkerX,stationX:bStationX,stationNames:bStationNames,labelDy:-15,
  layers:[{name:'blue',color:paletteBlue,pts:bBlue},{name:'cyan',color:paletteCyan,pts:bCyan},{name:'blue-sliver',color:paletteBlue,pts:bBlueSliver,closed:true},{name:'spring',color:paletteSpring,pts:bSpring},{name:'green',color:paletteGreen,pts:bGreen},{name:'dark-green',color:paletteDarkGreen,pts:bDarkGreen},{name:'olive',color:paletteOlive,pts:bOlive},{name:'yellow',color:paletteYellow,pts:bYellow},{name:'brown',color:paletteBrown,pts:bBrown},{name:'orange',color:paletteOrange,pts:bOrange},{name:'red',color:paletteRed,pts:bRed},{name:'dark-red',color:paletteDarkRed,pts:bDarkRed},{name:'dark-red-corner',color:paletteDarkRed,pts:bDarkRedCorner,closed:true},{name:'maroon',color:paletteMaroon,pts:bMaroon}],
  boundaries:[bBoundaryUpper,bBoundaryLower]});
drawPanel({id:'c',hatch:'hatch-a',x0:279,kx:1.529,y0:957,ky:35.2,xMin:-3,xMax:1321,base:paletteBlue,surface:cSurface,xTicks:cXTicks,markers:cMarkerX,stationX:cStationX,stationNames:cStationNames,labelDy:-15,
  layers:[{name:'cyan',color:paletteCyan,pts:cCyan},{name:'spring',color:paletteSpring,pts:cSpring},{name:'cyan-lens-west',color:paletteCyan,pts:cCyanLensA,closed:true},{name:'cyan-lens-middle',color:paletteCyan,pts:cCyanLensB,closed:true},{name:'cyan-lens-east',color:paletteCyan,pts:cCyanLensC,closed:true},{name:'green-island-west',color:paletteGreen,pts:cGreenIslandA,closed:true},{name:'green-island-east',color:paletteGreen,pts:cGreenIslandB,closed:true},{name:'green',color:paletteGreen,pts:cGreen},{name:'dark-green',color:paletteDarkGreen,pts:cDarkGreen},{name:'olive',color:paletteOlive,pts:cOlive},{name:'yellow',color:paletteYellow,pts:cYellow},{name:'brown',color:paletteBrown,pts:cBrown},{name:'orange',color:paletteOrange,pts:cOrange},{name:'red',color:paletteRed,pts:cRed},{name:'dark-red',color:paletteDarkRed,pts:cDarkRed},{name:'dark-red-island',color:paletteDarkRed,pts:cDarkRedIsland},{name:'maroon-west',color:paletteMaroon,pts:cMaroonWest},{name:'maroon-middle',color:paletteMaroon,pts:cMaroonMiddle},{name:'maroon-east',color:paletteMaroon,pts:cMaroonEast}],
  boundaries:[cBoundaryUpper,cBoundaryMiddle,cBoundaryDeep,cBoundaryEast,cBoundaryShort]});

/* colour bar */
const cb=document.getElementById('colorbar');
const cbLeft=1589,cbStep=(2007-1589)/colorbarColors.length;
colorbarColors.forEach(function(c,i){
  make('rect',{x:cbLeft+i*cbStep,y:1733,width:cbStep+.5,height:27,fill:c},'colorbar-cell',cb);
});
colorbarTickLabels.forEach(function(t,i){
  const el=make('text',{x:cbLeft+2+colorbarTickSteps[i]*cbStep,y:1793,'text-anchor':'middle','font-size':25,fill:'#333'},'colorbar-tick-label',cb);
  el.textContent=t;
});

/* legend grains */
const sandGroup=document.getElementById('legend-sand');
sandGrains.forEach(function(p){
  make('ellipse',{cx:p[0],cy:p[1],rx:3.5,ry:5.5},'sand-grain',sandGroup);
});
const gravelGroup=document.getElementById('legend-gravel');
gravelGrains.forEach(function(p){
  make('ellipse',{cx:p[0],cy:p[1],rx:3.5,ry:5.5},'gravel-grain',gravelGroup);
});
</script>
</body>
</html>
